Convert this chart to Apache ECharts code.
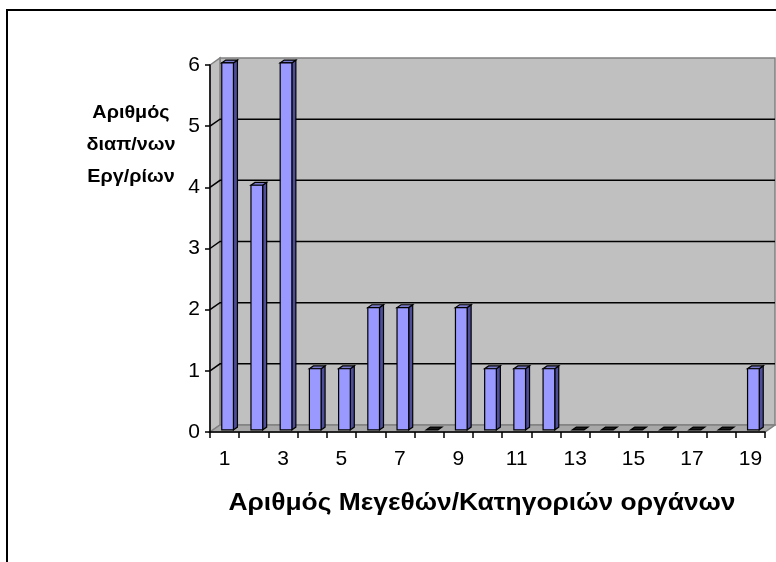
<!DOCTYPE html>
<html>
<head>
<meta charset="utf-8">
<script src="https://cdn.jsdelivr.net/npm/echarts@6/dist/echarts.min.js"></script>
<style>html,body{margin:0;padding:0;background:#fff}#c{width:776px;height:562px}</style>
</head>
<body>
<div id="c"></div>
<script>
const categories = ['1','2','3','4','5','6','7','8','9','10','11','12','13','14','15','16','17','18','19'];
const counts = [6,4,6,1,1,2,2,0,2,1,1,1,0,0,0,0,0,0,1];
const yMin = 0, yMax = 6, yStep = 1;
const gridValues = [1,2,3,4,5];
const yTitle = 'Αριθμός\nδιαπ/νων\nΕργ/ρίων';
const xTitle = 'Αριθμός Μεγεθών/Κατηγοριών οργάνων';

const FONT = '"Liberation Sans", Arial, sans-serif';
const DX = 10, DY = -7;          // 3D depth offset of the back wall
const F1 = 0.3, F2 = 0.7;        // bar depth fractions

const chart = echarts.init(document.getElementById('c'), null, {renderer:'canvas'});

function wallsRender(params, api) {
  const bw = api.size([1, 0])[0];
  const left = api.coord([0, 0])[0] - bw / 2;
  const right = api.coord([categories.length - 1, 0])[0] + bw / 2;
  const yTop = api.coord([0, yMax])[1];
  const yBot = api.coord([0, yMin])[1];
  const wallStyle = {fill: '#c0c0c0', stroke: '#808080', lineWidth: 1.5};
  const children = [
    {type: 'polygon', shape: {points: [[left + DX, yTop + DY], [right + DX, yTop + DY], [right + DX, yBot + DY], [left + DX, yBot + DY]]}, style: wallStyle},
    {type: 'polygon', shape: {points: [[left, yTop], [left + DX, yTop + DY], [left + DX, yBot + DY], [left, yBot]]}, style: wallStyle},
    {type: 'polygon', shape: {points: [[left, yBot], [right, yBot], [right + DX, yBot + DY], [left + DX, yBot + DY]]}, style: {fill: '#a8a8a8', stroke: '#808080', lineWidth: 1.5}}
  ];
  gridValues.forEach(v => {
    const y = api.coord([0, v])[1];
    children.push({type: 'polyline', shape: {points: [[left, y], [left + DX, y + DY], [right + DX, y + DY]]}, style: {stroke: '#000', lineWidth: 1.5, fill: null}});
  });
  return {type: 'group', children};
}

function barRender(params, api) {
  const i = api.value(0), v = api.value(1);
  const bw = api.size([1, 0])[0];
  const w = bw / 2.5;
  const cx = api.coord([i, 0])[0];
  const yt = api.coord([i, v])[1];
  const yb = api.coord([i, 0])[1];
  const fdx = DX * F1, fdy = DY * F1, bdx = DX * F2, bdy = DY * F2;
  const xl = cx - w / 2, xr = cx + w / 2;
  const edge = {stroke: '#000', lineWidth: 1.2};
  const top = {type: 'polygon', shape: {points: [[xl + fdx, yt + fdy], [xr + fdx, yt + fdy], [xr + bdx, yt + bdy], [xl + bdx, yt + bdy]]},
    style: Object.assign({fill: v === 0 ? '#1a1a1a' : '#7a7acc'}, edge)};
  if (v === 0) return {type: 'group', children: [top]};
  return {type: 'group', children: [
    {type: 'polygon', shape: {points: [[xr + fdx, yt + fdy], [xr + bdx, yt + bdy], [xr + bdx, yb + bdy], [xr + fdx, yb + fdy]]}, style: Object.assign({fill: '#4d4d99'}, edge)},
    top,
    {type: 'rect', shape: {x: xl + fdx, y: yt + fdy, width: w, height: yb - yt}, style: Object.assign({fill: '#9999ff'}, edge)}
  ]};
}

chart.setOption({
  animation: false,
  backgroundColor: '#fff',
  grid: {left: 210, right: 11, top: 65, bottom: 130, containLabel: false},
  xAxis: {
    type: 'category', data: categories, boundaryGap: true, z: 5,
    axisLine: {lineStyle: {color: '#000', width: 1.5}},
    axisTick: {show: true, interval: 0, alignWithLabel: false, length: 6, lineStyle: {color: '#000', width: 1.5}},
    axisLabel: {interval: 1, margin: 17, fontSize: 21, color: '#000', fontFamily: FONT},
    splitLine: {show: false}
  },
  yAxis: {
    type: 'value', min: yMin, max: yMax, interval: yStep, z: 5,
    axisLine: {show: true, lineStyle: {color: '#000', width: 1.5}},
    axisTick: {show: true, length: 5, lineStyle: {color: '#000', width: 1.5}},
    axisLabel: {margin: 10, fontSize: 21, color: '#000', fontFamily: FONT},
    splitLine: {show: false}
  },
  series: [
    {type: 'custom', renderItem: wallsRender, data: [[0, 0]], z: 1, silent: true, clip: false},
    {type: 'custom', renderItem: barRender, data: counts.map((v, i) => [i, v]), z: 3, clip: false}
  ],
  graphic: [
    {type: 'rect', shape: {x: 7, y: 10, width: 820, height: 620}, style: {fill: null, stroke: '#000', lineWidth: 2}, z: 10},
    {type: 'text', x: 131, y: 97, scaleX: 1.1, originX: 0, originY: 0, style: {text: yTitle, textAlign: 'center', font: 'bold 18px ' + FONT, lineHeight: 32, fill: '#000'}},
    {type: 'text', x: 482, y: 491, scaleX: 1.1, originX: 0, originY: 0, style: {text: xTitle, textAlign: 'center', font: 'bold 24px ' + FONT, fill: '#000'}}
  ]
});
</script>
</body>
</html>
